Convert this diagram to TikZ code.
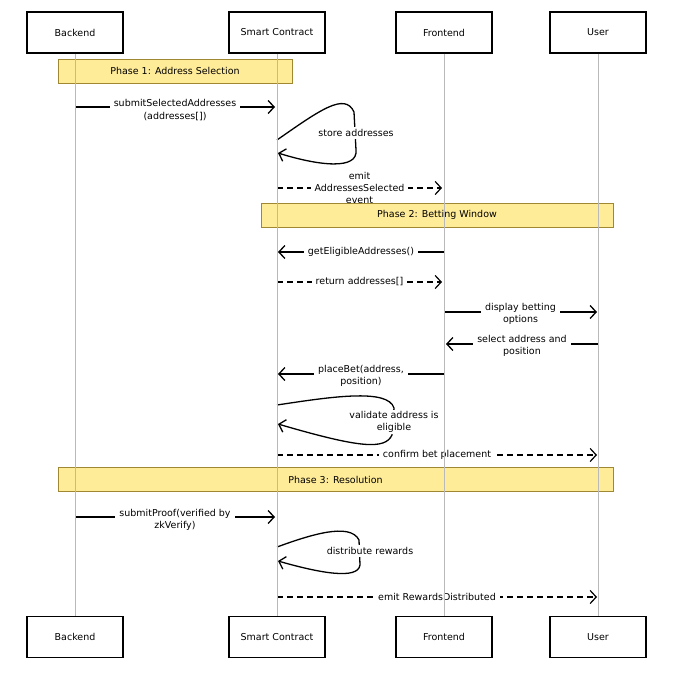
\documentclass[tikz,border=0pt]{standalone}
\usepackage{fontspec}
\setmainfont{DejaVu Sans}
\usetikzlibrary{arrows.meta}
\definecolor{phasefill}{RGB}{255,236,153}
\definecolor{phasedraw}{RGB}{160,135,50}
\definecolor{lifegray}{RGB}{185,185,185}
\begin{document}
\begin{tikzpicture}[x=1pt,y=-1pt,
  every node/.style={font=\fontsize{9.5pt}{12.5pt}\selectfont, inner sep=1.5pt},
  actor/.style={draw=black, line width=1.3pt, fill=white, minimum width=96pt, minimum height=41pt},
  phase/.style={draw=phasedraw, line width=0.9pt, fill=phasefill, minimum height=24pt},
  life/.style={draw=lifegray, line width=0.8pt},
  tipx/.style={-{Straight Barb[length=6pt,width=13pt]}},
  msg/.style={line width=1.3pt, tipx},
  rmsg/.style={line width=1.2pt, tipx, dash pattern=on 6pt off 4pt},
  lbl/.style={fill=white, align=center, inner xsep=4pt, inner ysep=2pt},
  nolbl/.style={align=center, inner sep=0pt},
  llbl/.style={fill=white, align=center, inner sep=1pt}]
\useasboundingbox (0,0) rectangle (673,680);

% actors
\node[actor] (bt) at (75,32.5) {Backend};
\node[actor] (st) at (277,32.5) {Smart Contract};
\node[actor] (ft) at (444,32.5) {Frontend};
\node[actor] (ut) at (598,32.5) {User};
\node[actor] (bb) at (75,637) {Backend};
\node[actor] (sb) at (277,637) {Smart Contract};
\node[actor] (fb) at (444,637) {Frontend};
\node[actor] (ub) at (598,637) {User};

% phase boxes
\node[phase, minimum width=234pt] (p1) at (175,71) {Phase 1: Address Selection};
\node[phase, minimum width=352pt] (p2) at (437,215) {Phase 2: Betting Window};
\node[phase, minimum width=555pt] (p3) at (335.5,479.5) {Phase 3: Resolution};

% coordinates on lifelines
\coordinate (b1) at (75,107);  \coordinate (s1) at (275,107);
\coordinate (s2a) at (277,140); \coordinate (s2b) at (278,153);
\coordinate (s3) at (277,188); \coordinate (f3) at (442,188);
\coordinate (f4) at (444,252); \coordinate (s4) at (278,252);
\coordinate (s5) at (277,282); \coordinate (f5) at (442,282);
\coordinate (f6) at (444,312); \coordinate (u6) at (597,312);
\coordinate (u7) at (598,344); \coordinate (f7) at (446,344);
\coordinate (f8) at (444,374); \coordinate (s8) at (278,374);
\coordinate (s9a) at (277,405); \coordinate (s9b) at (278,424);
\coordinate (s10) at (277,455); \coordinate (u10) at (597,455);
\coordinate (b11) at (75,517); \coordinate (s11) at (275,517);
\coordinate (s12a) at (277,547); \coordinate (s12b) at (278,561);
\coordinate (s13) at (277,597); \coordinate (u13) at (597,597);

% messages
\draw[msg] (b1) -- (s1) node[lbl, midway, yshift=-3pt] {submitSelectedAddresses\\(addresses[])};
\draw[msg] (s2a) .. controls (320,110) and (345,92) .. (354,112) -- (356,150) .. controls (358,170) and (320,166) .. (s2b);
\node[lbl] (l2) at (356,133) {store addresses};
\draw[rmsg] (s3) -- (f3) node[lbl, midway, inner ysep=1pt,
   label={[nolbl,label distance=2.5pt]above:emit}, label={[nolbl,label distance=3pt]below:event}] {AddressesSelected};
\draw[msg] (f4) -- (s4) node[lbl, midway] {getEligibleAddresses()};
\draw[rmsg] (s5) -- (f5) node[lbl, midway] {return addresses[]};
\draw[msg] (f6) -- (u6) node[lbl, midway, yshift=-2pt] {display betting\\options};
\draw[msg] (u7) -- (f7) node[lbl, midway, yshift=-2pt] {select address and\\position};
\draw[msg] (f8) -- (s8) node[lbl, midway, yshift=-2pt] {placeBet(address,\\position)};
\draw[msg] (s9a) .. controls (330,397) and (388,388) .. (394,408) -- (392,435) .. controls (385,450) and (360,448) .. (s9b);
\node[llbl] (l9) at (394,422) {validate address is\\eligible};
\draw[rmsg] (s10) -- (u10) node[lbl, midway] {confirm bet placement};
\draw[msg] (b11) -- (s11) node[lbl, midway, yshift=-3pt] {submitProof(verified by\\zkVerify)};
\draw[msg] (s12a) .. controls (310,535) and (350,522) .. (359,540) -- (360,565) .. controls (358,580) and (320,573) .. (s12b);
\node[lbl] (l12) at (370,551) {distribute rewards};
\draw[rmsg] (s13) -- (u13) node[lbl, midway] {emit RewardsDistributed};

% lifelines (drawn on top)
\draw[life] (bt) -- (bb);
\draw[life] (st) -- (sb);
\draw[life] (ft) -- (fb);
\draw[life] (ut) -- (ub);
\end{tikzpicture}
\end{document}
